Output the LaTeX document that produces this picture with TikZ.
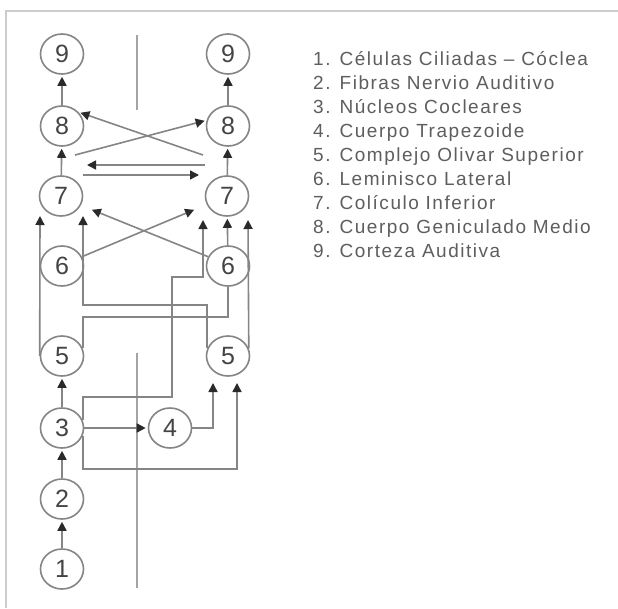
\documentclass[tikz,border=0pt]{standalone}
\usepackage{fontspec}
\setmainfont{Liberation Sans}
\usetikzlibrary{arrows.meta,shapes.geometric,calc}
\definecolor{cline}{HTML}{858585}
\definecolor{tipc}{HTML}{2A2A2A}
\definecolor{ctext}{HTML}{444444}
\definecolor{legtext}{HTML}{5E5E5E}
\definecolor{frame}{HTML}{CCCCCC}
\begin{document}
\begin{tikzpicture}[x=1pt,y=-1pt,
  nd/.style={ellipse,draw=cline,line width=1.6pt,minimum width=43pt,minimum height=40pt,inner sep=0pt,font=\fontsize{25}{25}\selectfont,text=ctext},
  arr/.style={draw=cline,line width=1.6pt,shorten >=2pt,-{Triangle[length=9pt,width=9pt,color=tipc]}},
  ln/.style={draw=cline,line width=1.6pt},
  leg/.style={anchor=base west,inner sep=0pt,text=legtext,font=\fontsize{19}{19}\selectfont\addfontfeature{LetterSpace=8}},
  divider/.style={draw=cline!75,line width=1.3pt},
  frm/.style={draw=frame,line width=1.5pt}]
\useasboundingbox (0,0) rectangle (618,608);
\fill[white] (0,0) rectangle (618,608);
\draw[frm] (6,608) -- (6,11) -- (618,11);
% dividers
\draw[divider] (137,35) -- (137,110);
\draw[divider] (137,353) -- (137,588);
% nodes
\node[nd] (L9) at (62,54) {9};
\node[nd] (L8) at (62,126) {8};
\node[nd] (L7) at (61,196) {7};
\node[nd] (L6) at (62,266) {6};
\node[nd] (L5) at (62,356) {5};
\node[nd] (L3) at (62,428) {3};
\node[nd] (L2) at (62,499) {2};
\node[nd] (L1) at (62,569) {1};
\node[nd] (R9) at (228,54) {9};
\node[nd] (R8) at (228,126) {8};
\node[nd] (R7) at (227,196) {7};
\node[nd] (R6) at (228,266) {6};
\node[nd] (R5) at (228,356) {5};
\node[nd] (N4) at (170,428) {4};
% free ends
\coordinate (xa) at (75,155);
\coordinate (xb) at (203,155);
\coordinate (ca) at (205,165);
\coordinate (cb) at (85,165);
\coordinate (cc) at (83,175);
\coordinate (cd) at (201,175);
\coordinate (t1) at (40,214);
\coordinate (t2) at (83,214);
\coordinate (t3) at (203,218);
\coordinate (t4) at (248,218);
\coordinate (t5) at (196,209);
\coordinate (t6) at (90,209);
\coordinate (t7) at (237,381);
\coordinate (t8) at (213,381);
% straight chains
\draw[arr] (L1) -- (L2);
\draw[arr] (L2) -- (L3);
\draw[arr] (L3) -- (L5);
\draw[arr] (L7) -- (L8);
\draw[arr] (L8) -- (L9);
\draw[arr] (R6) -- (R7);
\draw[arr] (R7) -- (R8);
\draw[arr] (R8) -- (R9);
% top crossing
\draw[arr] (xa) -- (R8.165);
\draw[arr] (xb) -- (L8.40);
% commissure 7-7
\draw[arr] (ca) -- (cb);
\draw[arr] (cc) -- (cd);
% 6 crossing to 7
\draw[arr] (L6.25) -- (t5);
\draw[arr] (R6.155) -- (t6);
% 5 to 7
\draw[arr] (L5.west) -- (t1);
\draw[arr] (R5.160) |- (83,305) -- (t2);
\draw[arr] (R5.20) -- (t4);
% left 5 to right 6
\draw[ln] (L5.20) |- (228,317) -- (R6.south);
% 3 to 4, 4 to 5
\draw[arr] (L3) -- (N4);
\draw[arr] (N4.east) -| (t8);
% 3 to right 5 and right 7
\draw[arr] (L3.-20) |- (237,469) -- (t7);
\draw[arr] (L3.20) |- (172,397) |- (203,277) -- (t3);
% legend
\node[leg] (g1) at (313,65) {1. Células Ciliadas – Cóclea};
\node[leg] (g2) at (313,89) {2. Fibras Nervio Auditivo};
\node[leg] (g3) at (313,113) {3. Núcleos Cocleares};
\node[leg] (g4) at (313,137) {4. Cuerpo Trapezoide};
\node[leg] (g5) at (313,161) {5. Complejo Olivar Superior};
\node[leg] (g6) at (313,185) {6. Leminisco Lateral};
\node[leg] (g7) at (313,209) {7. Colículo Inferior};
\node[leg] (g8) at (313,233) {8. Cuerpo Geniculado Medio};
\node[leg] (g9) at (313,257) {9. Corteza Auditiva};
\end{tikzpicture}
\end{document}
